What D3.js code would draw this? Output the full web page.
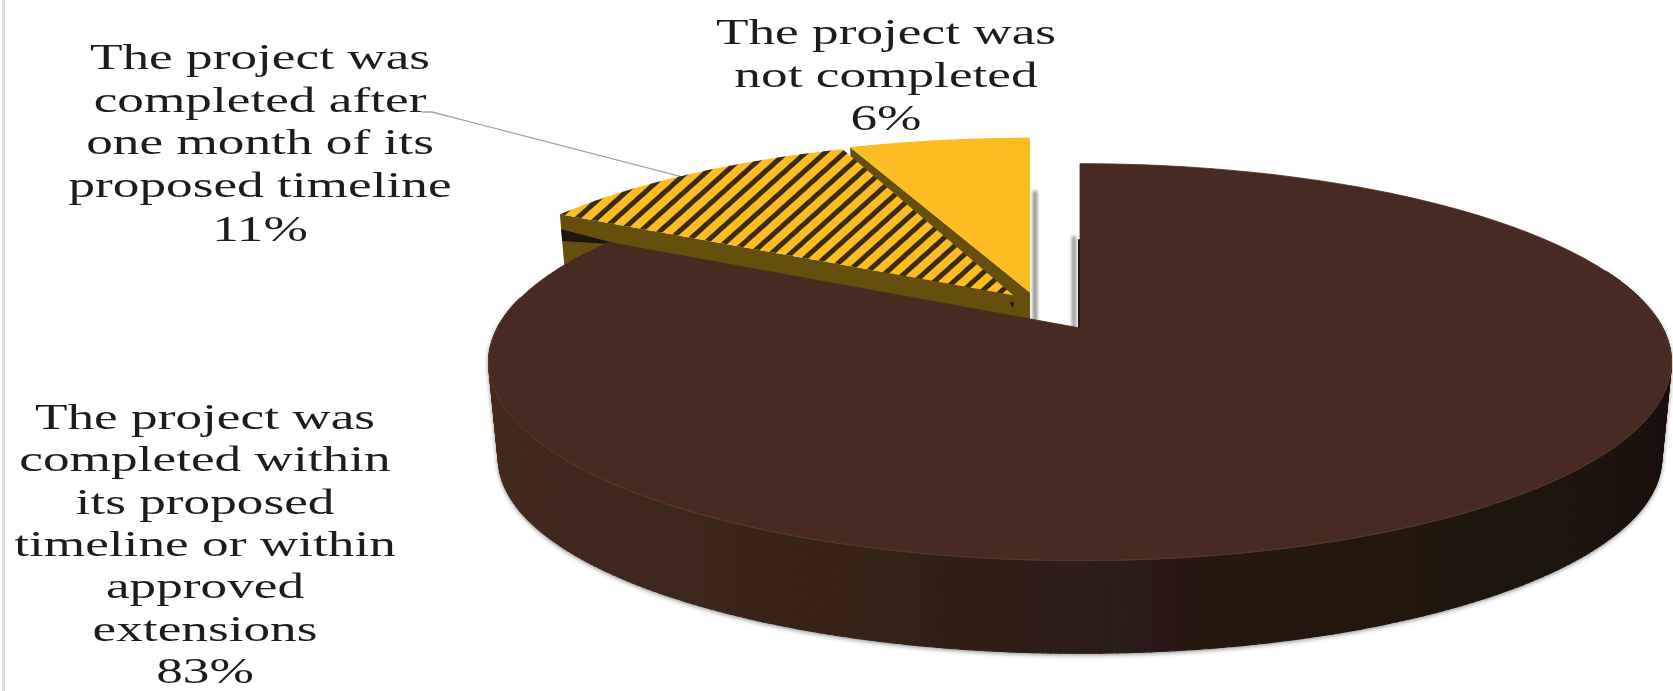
<!DOCTYPE html>
<html><head><meta charset="utf-8">
<script src="https://cdn.jsdelivr.net/npm/d3@7/dist/d3.min.js"></script>
<style>html,body{margin:0;padding:0;background:#fff;overflow:hidden}svg{display:block}</style>
</head><body><svg id="c" width="1673" height="691"></svg>
<script>
const categories = ["completed within timeline", "completed after one month", "not completed"];
const values = [83, 11, 6];
const colors = ["#482c21", "url(#hatch)", "#fcbc22"];
const labelLines = [
  ["The project was","completed within","its proposed","timeline or within","approved","extensions","83%"],
  ["The project was","completed after","one month of its","proposed timeline","11%"],
  ["The project was","not completed","6%"]
];

const W = 1673, H = 691;
const svg = d3.select("#c");
const defs = svg.append("defs");
const hatch = defs.append("pattern").attr("id","hatch").attr("patternUnits","userSpaceOnUse")
  .attr("width",13).attr("height",13).attr("patternTransform","rotate(-42)");
hatch.append("rect").attr("width",13).attr("height",13).attr("fill","#fcbc22");
hatch.append("rect").attr("width",13).attr("height",5).attr("fill","#3a2b14");
const grad = defs.append("linearGradient").attr("id","side").attr("gradientUnits","userSpaceOnUse")
  .attr("x1",490).attr("x2",1673).attr("y1",0).attr("y2",0);
[[0,"#43291e"],[0.22,"#3b2419"],[0.48,"#2e1c14"],[0.72,"#21140e"],[1,"#1c110c"]].forEach(s=>grad.append("stop").attr("offset",s[0]).attr("stop-color",s[1]));
defs.append("filter").attr("id","soft").attr("filterUnits","userSpaceOnUse").attr("x",0).attr("y",0).attr("width",W).attr("height",H)
  .append("feGaussianBlur").attr("stdDeviation",0.7);
defs.append("filter").attr("id","shade").attr("filterUnits","userSpaceOnUse").attr("x",0).attr("y",0).attr("width",W).attr("height",H)
  .append("feGaussianBlur").attr("stdDeviation",1.8);
defs.append("filter").attr("id","drop").attr("filterUnits","userSpaceOnUse").attr("x",0).attr("y",0).attr("width",W).attr("height",H)
  .append("feDropShadow").attr("dx",0).attr("dy",1.5).attr("stdDeviation",2.2).attr("flood-color","#000").attr("flood-opacity",0.4);

// perspective projection of the pie disc: top face and bottom face
const k = -0.172;
const topFace = {x:1080, y:328, a:192.6, b:582.6};
const botFace = {x:1080, y:425, a:189, b:573};
function face(f,u,v){const d=1+k*v;return [f.x+f.b*u/d, f.y+f.a*v/d];}
function P(ang,r,off,depth){
  const u=r*Math.sin(ang)+off[0], v=-r*Math.cos(ang)+off[1];
  const t=face(topFace,u,v), b=face(botFace,u,v);
  return [t[0]+(b[0]-t[0])*depth+off[2], t[1]+(b[1]-t[1])*depth];
}
// slice explosion: disc offset u, disc offset v, extra sideways shift
const offsets = [[0,0,0],[-0.125,-0.175,4],[0,-0.19,-50]];
const arcs = d3.pie().sort(null).startAngle(0).endAngle(2*Math.PI)(values);
const line = d3.line();
const steps = (a0,a1,n=120)=>d3.range(n+1).map(i=>a0+(a1-a0)*i/n);
const sector = (s,off)=>line([P(0,0,off,0),...steps(s.startAngle,s.endAngle).map(a=>P(a,1,off,0))])+"Z";

const root = svg.append("g").attr("filter","url(#soft)");
root.append("rect").attr("x",2).attr("y",0).attr("width",3).attr("height",H).attr("fill","#dcdcdc");

const [brown,hat,yel] = arcs;
const gold = "#66500f";

// leader line
root.append("path").attr("d",line([[422,112],[432,112],P(hat.startAngle+(hat.endAngle-hat.startAngle)*0.47,1,offsets[1],0)]))
  .attr("fill","none").attr("stroke","#a3a3a3").attr("stroke-width",1.3);

// shadows beside the exploded gap
root.append("path").attr("d",line([P(0,0.62,offsets[2],0),P(0,0,offsets[2],0.3)]))
  .attr("transform","translate(5,0)").attr("fill","none").attr("stroke","#9a9a9a").attr("stroke-width",5).attr("filter","url(#shade)");
root.append("path").attr("d",line([P(0,0.52,offsets[0],0),P(0,0,offsets[0],0)]))
  .attr("transform","translate(-6,0)").attr("fill","none").attr("stroke","#a5a5a5").attr("stroke-width",5).attr("filter","url(#shade)");
root.append("path").attr("d",line([P(0,0.5,offsets[0],0),P(0,0,offsets[0],0)]))
  .attr("transform","translate(-1,0)").attr("fill","none").attr("stroke","#1c120d").attr("stroke-width",2);

// yellow slice: cut wall, then top
root.append("path").attr("d",line([P(yel.startAngle,0,offsets[2],0),P(yel.startAngle,1,offsets[2],0),P(yel.startAngle,1,offsets[2],1),P(yel.startAngle,0,offsets[2],1)])+"Z").attr("fill",gold);
root.append("path").attr("d",line([P(0,0,offsets[2],0),P(0,0,offsets[2],0.4),[P(hat.endAngle,0,offsets[1],0.5)[0],P(0,0,offsets[2],0.4)[1]]])+"Z").attr("fill",gold);
root.append("path").attr("d",sector(yel,offsets[2])).attr("fill",colors[2]);

// hatched slice: cut wall, dark corner band, then top
root.append("path").attr("d",line([P(hat.startAngle,0,offsets[1],0),P(hat.startAngle,1,offsets[1],0),P(hat.startAngle,1,offsets[1],1),P(hat.startAngle,0,offsets[1],1)])+"Z").attr("fill",gold);
root.append("path").attr("d",line([P(hat.startAngle,1,offsets[1],0.15),P(hat.startAngle,0.86,offsets[1],0.2),P(hat.startAngle,1,offsets[1],0.27)])+"Z").attr("fill","#1e130c");
root.append("path").attr("d",line([P(hat.startAngle,0,offsets[1],0.06),P(hat.startAngle,0.008,offsets[1],0.09),P(hat.startAngle,0,offsets[1],0.13)])+"Z").attr("fill","#1e130c");
root.append("path").attr("d",sector(hat,offsets[1])).attr("fill",colors[1]);

// brown slice: outer wall built from many quads so the silhouette stays tangent, then top
const wallAngles = steps(Math.PI*0.4, Math.PI*1.55, 300);
const wall = root.append("g").attr("filter","url(#drop)");
wall.selectAll("path").data(d3.pairs(wallAngles)).join("path")
  .attr("d",([a,b])=>line([P(a,1,offsets[0],0),P(b,1,offsets[0],0),P(b,1,offsets[0],1),P(a,1,offsets[0],1)])+"Z")
  .attr("fill","url(#side)").attr("stroke","url(#side)").attr("stroke-width",1.2);
root.append("path").attr("d",sector(brown,offsets[0])).attr("fill",colors[0]).attr("stroke",colors[0]).attr("stroke-width",0.8);
// lighter rim along the front edge of the top face
root.append("path").attr("d",line(steps(Math.PI*0.45,Math.PI*1.5).map(a=>P(a,1,offsets[0],0))))
  .attr("fill","none").attr("stroke","#5b3a2b").attr("stroke-width",1);

// labels
const labelSpec = [
  {cx:205, base:[429,471,514,556,598,640.5,683]},
  {cx:260, base:[69,112,154,197,241]},
  {cx:886, base:[44,87,130]}
];
labelLines.forEach((lines,i)=>{
  root.selectAll(null).data(lines).join("text")
    .attr("transform",(d,j)=>`translate(${labelSpec[i].cx},${labelSpec[i].base[j]}) scale(1.46,1)`)
    .attr("text-anchor","middle")
    .attr("font-family","'Liberation Serif',serif")
    .attr("font-size",36.5)
    .attr("fill","#1f1f1f")
    .text(d=>d);
});
</script></body></html>
